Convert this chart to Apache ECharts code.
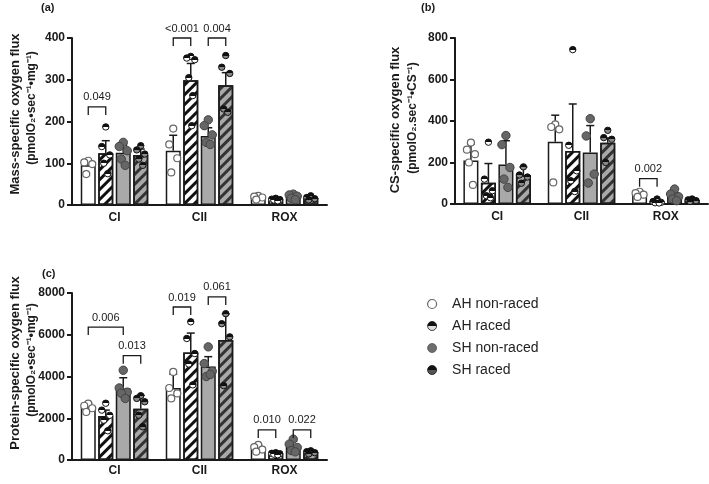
<!DOCTYPE html>
<html>
<head>
<meta charset="utf-8">
<script src="https://cdn.jsdelivr.net/npm/echarts@6/dist/echarts.min.js"></script>
<style>
  html, body { margin: 0; padding: 0; background: #fff; }
  #chart { width: 709px; height: 484px; }
</style>
</head>
<body>
<div id="chart"></div>
<script>
const categories = ['CI', 'CII', 'ROX'];
const groups = ['AH non-raced', 'AH raced', 'SH non-raced', 'SH raced'];

// (a) mass-specific flux: rows = groups, columns = categories
const massMeans = [
  [95, 130, 18],
  [124, 299, 13],
  [125, 165, 20],
  [120, 287, 17],
];
const massErrTop = [
  [106, 167, 21],
  [154, 339, 15],
  [143, 185, 24],
  [134, 317, 20],
];
const massPoints = [
  [[106, 102, 98, 74], [183, 145, 112, 78], [22, 20, 18, 13]],
  [[187, 140, 120, 100, 75], [356, 352, 348, 305, 262, 190], [16, 14, 13, 12, 10]],
  [[150, 140, 130, 110, 95], [204, 190, 168, 150, 145], [26, 24, 21, 16, 13]],
  [[142, 132, 122, 110, 95], [358, 330, 315, 230, 222], [22, 18, 15, 12]],
];
// [category, bar from, bar to, bracket height, p value]
const massBrackets = [
  [0, 0, 1, 235, '0.049'],
  [1, 0, 1, 400, '<0.001'],
  [1, 2, 3, 400, '0.004'],
];

// (b) CS-specific flux
const csMeans = [
  [210, 300, 48],
  [102, 255, 13],
  [190, 248, 35],
  [138, 295, 18],
];
const csErrTop = [
  [290, 428, 62],
  [195, 482, 18],
  [305, 378, 55],
  [178, 318, 22],
];
const csPoints = [
  [[296, 262, 240, 200, 92], [384, 371, 360, 104], [59, 52, 45, 34]],
  [[298, 120, 64, 40, 30], [744, 283, 160, 112, 60], [24, 12, 8, 6, 5]],
  [[330, 286, 176, 120, 80], [411, 328, 144, 101], [72, 48, 35, 24, 16]],
  [[179, 140, 130, 100], [355, 320, 312, 200], [24, 20, 16, 12]],
];
const csBrackets = [
  [2, 0, 1, 122, '0.002'],
];

// (c) protein-specific flux
const protMeans = [
  [2510, 3450, 560],
  [2110, 5150, 300],
  [3430, 4480, 640],
  [2460, 5750, 370],
];
const protErrTop = [
  [2720, 4120, 720],
  [2390, 6080, 360],
  [3940, 4950, 900],
  [3100, 7000, 450],
];
const protPoints = [
  [[2700, 2600, 2480, 2300], [4220, 3450, 3190, 2950], [720, 620, 500, 400]],
  [[2720, 2390, 2140, 1910, 1400], [6620, 5820, 5100, 4600, 3600], [350, 320, 300, 280, 250]],
  [[4300, 3450, 3250, 3200, 2950], [5420, 4620, 4250, 4000, 4100], [1000, 760, 600, 450, 390]],
  [[3080, 2950, 2790, 2150, 1590], [7010, 6530, 5900, 3560], [440, 400, 350, 290]],
];
const protBrackets = [
  [0, 0, 2, 6370, '0.006'],
  [0, 2, 3, 5000, '0.013'],
  [1, 0, 1, 7330, '0.019'],
  [1, 2, 3, 7810, '0.061'],
  [2, 0, 1, 1440, '0.010'],
  [2, 2, 3, 1440, '0.022'],
];

const yMax = [400, 800, 8000];
const yStep = [100, 200, 2000];

const FONT = '"Liberation Sans", Arial, Helvetica, sans-serif';
const INK = '#1a1a1a';
const BAR_W = 15;
const BAR_STEP = 17.5;
const JITTER = [0, -4, 4, -2, 2, 1];

const barOffset = g => (g - 1.5) * BAR_STEP;

const halfFill = (top, bottom) => new echarts.graphic.LinearGradient(0, 0, 0, 1, [
  { offset: 0, color: top },
  { offset: 0.5, color: top },
  { offset: 0.5, color: bottom },
  { offset: 1, color: bottom },
]);

const stripes = color => ({
  symbol: 'rect',
  symbolSize: 1,
  dashArrayX: [1, 0],
  dashArrayY: [3, 4],
  rotation: -Math.PI / 4,
  color: color,
});

const barStyles = [
  { color: '#ffffff', borderColor: INK, borderWidth: 1.5 },
  { color: '#ffffff', borderColor: INK, borderWidth: 1.5, decal: stripes('#111') },
  { color: '#a9a9a9', borderColor: INK, borderWidth: 1.5 },
  { color: '#a9a9a9', borderColor: INK, borderWidth: 1.5, decal: stripes('#333') },
];

const dotStyles = [
  { fill: '#ffffff', stroke: '#666', lineWidth: 1.2 },
  { fill: halfFill('#111', '#fff'), stroke: '#111', lineWidth: 1 },
  { fill: '#666666', stroke: '#444', lineWidth: 1 },
  { fill: halfFill('#111', '#888'), stroke: '#111', lineWidth: 1 },
];
const dotRadius = [3.5, 3.2, 4.2, 3.2];

const legendStyles = [
  { color: '#ffffff', borderColor: '#666', borderWidth: 1.2 },
  { color: halfFill('#111', '#ddd'), borderColor: '#111', borderWidth: 0.8 },
  { color: '#6e6e6e', borderColor: '#555', borderWidth: 0.8 },
  { color: halfFill('#111', '#555'), borderColor: '#111', borderWidth: 0.8 },
];

const panels = [
  { means: massMeans, errTop: massErrTop, points: massPoints, brackets: massBrackets },
  { means: csMeans, errTop: csErrTop, points: csPoints, brackets: csBrackets },
  { means: protMeans, errTop: protErrTop, points: protPoints, brackets: protBrackets },
];

const grids = [
  { left: 72, top: 38, width: 255, height: 167 },
  { left: 455, top: 38, width: 253, height: 166 },
  { left: 72, top: 293, width: 255, height: 167 },
];
const labelMargin = [7, 7, 5];

const xAxes = grids.map((g, i) => ({
  type: 'category',
  gridIndex: i,
  data: categories,
  axisLine: { lineStyle: { color: INK, width: 2 } },
  axisTick: { alignWithLabel: true, length: 5, lineStyle: { color: INK, width: 2 } },
  axisLabel: { color: INK, fontFamily: FONT, fontWeight: 'bold', fontSize: 12, margin: labelMargin[i] },
}));

const yAxes = grids.map((g, i) => ({
  type: 'value',
  gridIndex: i,
  min: 0,
  max: yMax[i],
  interval: yStep[i],
  splitLine: { show: false },
  axisLine: { show: true, lineStyle: { color: INK, width: 2 } },
  axisTick: { show: true, length: 5, lineStyle: { color: INK, width: 2 } },
  axisLabel: {
    color: INK, fontFamily: FONT, fontWeight: 'bold', fontSize: 12, margin: 7,
    formatter: v => String(v),
  },
}));

const series = [];

panels.forEach((p, pi) => {
  // bars
  p.means.forEach((vals, g) => {
    series.push({
      type: 'bar',
      xAxisIndex: pi,
      yAxisIndex: pi,
      data: vals,
      barWidth: BAR_W,
      barGap: ((BAR_STEP - BAR_W) / BAR_W * 100) + '%',
      itemStyle: barStyles[g],
      silent: true,
      z: 2,
    });
  });

  // error bars (upper whisker only)
  const errData = [];
  p.means.forEach((vals, g) => {
    vals.forEach((m, c) => errData.push([c, m, p.errTop[g][c], g]));
  });
  series.push({
    type: 'custom',
    xAxisIndex: pi,
    yAxisIndex: pi,
    data: errData,
    silent: true,
    z: 3,
    renderItem: (params, api) => {
      const lo = api.coord([api.value(0), api.value(1)]);
      const hi = api.coord([api.value(0), api.value(2)]);
      const x = lo[0] + barOffset(api.value(3));
      const st = { stroke: INK, lineWidth: 1.5 };
      return {
        type: 'group',
        children: [
          { type: 'line', shape: { x1: x, y1: lo[1], x2: x, y2: hi[1] }, style: st },
          { type: 'line', shape: { x1: x - 4, y1: hi[1], x2: x + 4, y2: hi[1] }, style: st },
        ],
      };
    },
  });

  // individual points
  p.points.forEach((cats, g) => {
    const data = [];
    cats.forEach((vals, c) => vals.forEach((v, k) => data.push([c, v, k])));
    series.push({
      type: 'custom',
      name: groups[g],
      xAxisIndex: pi,
      yAxisIndex: pi,
      data: data,
      silent: true,
      z: 4,
      renderItem: (params, api) => {
        const pt = api.coord([api.value(0), api.value(1)]);
        return {
          type: 'circle',
          shape: { cx: pt[0] + barOffset(g) + JITTER[api.value(2)], cy: pt[1], r: dotRadius[g] },
          style: dotStyles[g],
        };
      },
    });
  });

  // significance brackets
  series.push({
    type: 'custom',
    xAxisIndex: pi,
    yAxisIndex: pi,
    data: p.brackets.map(b => [b[0], b[3]]),
    silent: true,
    z: 5,
    renderItem: (params, api) => {
      const b = p.brackets[params.dataIndex];
      const pt = api.coord([b[0], b[3]]);
      const x1 = pt[0] + barOffset(b[1]);
      const x2 = pt[0] + barOffset(b[2]);
      const y = pt[1];
      return {
        type: 'group',
        children: [
          {
            type: 'polyline',
            shape: { points: [[x1, y + 8], [x1, y], [x2, y], [x2, y + 8]] },
            style: { stroke: INK, lineWidth: 1.3, fill: null },
          },
          {
            type: 'text',
            style: {
              x: (x1 + x2) / 2,
              y: y - 4,
              text: b[4],
              align: 'center',
              verticalAlign: 'bottom',
              font: '11px ' + FONT,
              fill: INK,
            },
          },
        ],
      };
    },
  });
});

const yName = (x, y, text, size) => ({
  type: 'text',
  x: x,
  y: y,
  rotation: Math.PI / 2,
  style: {
    text: text,
    x: 0,
    y: 0,
    align: 'center',
    verticalAlign: 'middle',
    font: 'bold ' + size + 'px ' + FONT,
    fill: INK,
  },
});

const tag = (x, y, text) => ({
  type: 'text',
  left: x,
  top: y,
  style: { text: text, font: 'bold 11px ' + FONT, fill: INK },
});

const chart = echarts.init(document.getElementById('chart'));
chart.setOption({
  animation: false,
  backgroundColor: '#fff',
  grid: grids,
  xAxis: xAxes,
  yAxis: yAxes,
  legend: {
    orient: 'vertical',
    left: 422,
    top: 292,
    itemWidth: 30,
    itemHeight: 9,
    itemGap: 8,
    selectedMode: false,
    textStyle: { fontFamily: FONT, fontSize: 14, color: '#222' },
    data: groups.map((n, g) => ({ name: n, icon: 'circle', itemStyle: legendStyles[g] })),
  },
  graphic: [
    tag(41, 2, '(a)'),
    tag(421, 2, '(b)'),
    tag(42, 268, '(c)'),
    yName(15, 114, 'Mass-specific oxygen flux', 13),
    yName(32, 108, '(pmolO\u2082\u2022sec\u207B\u00B9\u2022mg\u207B\u00B9)', 12),
    yName(395, 120, 'CS-specific oxygen flux', 13),
    yName(413, 118, '(pmolO\u2082.sec\u207B\u00B9\u2022CS\u207B\u00B9)', 12),
    yName(15, 363, 'Protein-specific oxygen flux', 13),
    yName(32, 360, '(pmolO\u2082\u2022sec\u207B\u00B9\u2022mg\u207B\u00B9)', 12),
  ],
  series: series,
});
</script>
</body>
</html>
